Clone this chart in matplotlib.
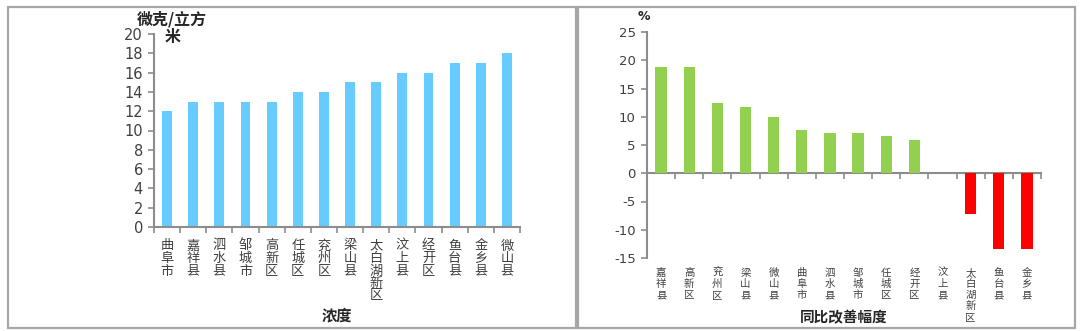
import matplotlib
matplotlib.use("Agg")
import matplotlib.pyplot as plt
from matplotlib.patches import Rectangle
import numpy as np

plt.rcParams['font.family'] = ['Noto Sans CJK SC', 'DejaVu Sans']

# ---- data ----
conc_cats = ["曲阜市", "嘉祥县", "泗水县", "邹城市", "高新区", "任城区", "兖州区",
             "梁山县", "太白湖新区", "汶上县", "经开区", "鱼台县", "金乡县", "微山县"]
conc_vals = [12, 13, 13, 13, 13, 14, 14, 15, 15, 16, 16, 17, 17, 18]

impr_cats = ["嘉祥县", "高新区", "兖州区", "梁山县", "微山县", "曲阜市", "泗水县",
             "邹城市", "任城区", "经开区", "汶上县", "太白湖新区", "鱼台县", "金乡县"]
impr_vals = [18.75, 18.75, 12.5, 11.76, 10.0, 7.69, 7.14, 7.14, 6.67, 5.88,
             0.0, -7.14, -13.33, -13.33]

left_yticks = [0, 2, 4, 6, 8, 10, 12, 14, 16, 18, 20]
right_yticks = [-15, -10, -5, 0, 5, 10, 15, 20, 25]

# ---- style ----
W, H = 1080, 331
spine_c = "#8c8c8c"
txt_c = "#404040"
blue = "#66CCFF"
green = "#92D050"
red = "#FF0000"
num_font = ["DejaVu Sans"]

fig = plt.figure(figsize=(W / 100, H / 100), dpi=100)
fig.patch.set_facecolor("white")

def fx(x):
    return x / W

def fy(y):
    return 1 - y / H

# panel borders
for (x0, x1) in [(8, 576), (578, 1075)]:
    fig.patches.append(Rectangle((fx(x0), fy(328)), fx(x1 - x0), (328 - 7) / H,
                                 transform=fig.transFigure, fill=False,
                                 edgecolor="#a6a6a6", lw=1.6))

def vert(s):
    return "\n".join(list(s))

def style_axes(ax, size):
    for s in ["top", "right"]:
        ax.spines[s].set_visible(False)
    ax.spines["left"].set_color(spine_c)
    ax.spines["left"].set_linewidth(1.5)
    ax.tick_params(axis="y", direction="out", length=4, width=1.2, color=spine_c,
                   labelcolor=txt_c, pad=4)
    for lab in ax.get_yticklabels():
        lab.set_family(num_font)
        lab.set_fontsize(size)

# ---- left chart ----
axL = fig.add_axes([fx(154), fy(227), fx(520 - 154), (227 - 34) / H])
x = np.arange(len(conc_cats))
axL.bar(x, conc_vals, width=0.38, color=blue)
axL.set_xlim(-0.5, len(conc_cats) - 0.5)
axL.set_ylim(0, 20)
axL.set_yticks(left_yticks)
axL.set_yticklabels([str(v) for v in left_yticks])
style_axes(axL, 10.5)
axL.spines["bottom"].set_color(spine_c)
axL.spines["bottom"].set_linewidth(1.5)
axL.set_xticks(x)
axL.set_xticklabels([vert(c) for c in conc_cats], fontsize=9.5, color=txt_c,
                    linespacing=0.95, va="top")
axL.tick_params(axis="x", which="major", length=0, pad=9)
axL.set_xticks(np.arange(len(conc_cats) + 1) - 0.5, minor=True)
axL.tick_params(axis="x", which="minor", direction="out", length=4, width=1.2,
                color=spine_c)
fig.text(fx(337), fy(315), "浓度", ha="center", va="center", fontsize=11,
         fontweight="bold", color="#262626")
fig.text(fx(172), fy(19), "微克/立方", ha="center", va="center", fontsize=11.5,
         fontweight="bold", color="#262626")
fig.text(fx(173), fy(37), "米", ha="center", va="center", fontsize=11.5,
         fontweight="bold", color="#262626")

# ---- right chart ----
axR = fig.add_axes([fx(647), fy(258), fx(1041 - 647), (258 - 32) / H])
x2 = np.arange(len(impr_cats))
colors = [green if v >= 0 else red for v in impr_vals]
axR.bar(x2, impr_vals, width=0.4, color=colors)
axR.set_xlim(-0.5, len(impr_cats) - 0.5)
axR.set_ylim(-15, 25)
axR.set_yticks(right_yticks)
axR.set_yticklabels([str(v) for v in right_yticks])
style_axes(axR, 9.5)
axR.spines["bottom"].set_visible(False)
axR.set_xticks(x2)
axR.set_xticklabels([vert(c) for c in impr_cats], fontsize=7.5, color=txt_c,
                    linespacing=1.15, va="top")
axR.tick_params(axis="x", which="major", length=0, pad=7)
zero_frac = (0 - (-15)) / (25 - (-15))
sec = axR.secondary_xaxis(zero_frac)
sec.spines["bottom"].set_color(spine_c)
sec.spines["bottom"].set_linewidth(1.5)
sec.set_xticks(np.arange(len(impr_cats) + 1) - 0.5)
sec.set_xticklabels([])
sec.tick_params(axis="x", direction="out", length=4, width=1.2, color=spine_c)
fig.text(fx(844), fy(317), "同比改善幅度", ha="center", va="center", fontsize=10.5,
         fontweight="bold", color="#262626")
fig.text(fx(644), fy(17), "%", ha="center", va="center", fontsize=9,
         fontweight="bold", color="#262626", family=num_font)

fig.savefig("out.png", dpi=100)
